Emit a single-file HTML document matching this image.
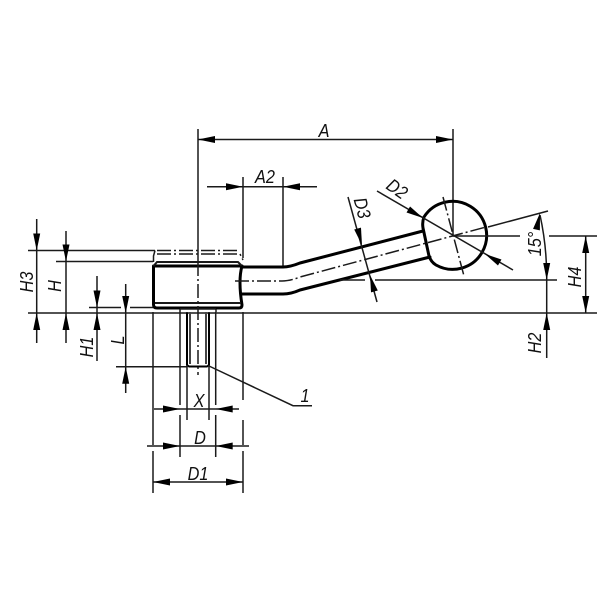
<!DOCTYPE html>
<html><head><meta charset="utf-8"><style>
html,body{margin:0;padding:0;background:#fff}
svg{display:block}
text{font-family:"Liberation Sans",sans-serif;font-style:italic;font-size:18.5px;fill:#111;text-anchor:middle}
.t{stroke:#1a1a1a;stroke-width:1.5;fill:none}
.k{stroke:#000;stroke-width:3;fill:none;stroke-linejoin:round;stroke-linecap:round}
.c{stroke:#1a1a1a;stroke-width:1.5;fill:none;stroke-dasharray:14 3 2 3}
.g{stroke:#444;stroke-width:2;fill:none}
.a{fill:#000}
</style></head><body>
<svg width="600" height="600" viewBox="0 0 600 600" xmlns="http://www.w3.org/2000/svg">
<defs><path id="h" d="M0,0 L-17,-3.5 L-17,3.5 Z"/></defs>

<!-- top dims -->
<path class="t" d="M198,129V262 M453,129V236 M198,139.5H453 M207,186.7H317 M243,177V258 M283,177V266"/>
<use href="#h" class="a" transform="translate(198,139.5) rotate(180)"/>
<use href="#h" class="a" transform="translate(453,139.5)"/>
<use href="#h" class="a" transform="translate(243,186.7)"/>
<use href="#h" class="a" transform="translate(283,186.7) rotate(180)"/>

<!-- left dims -->
<path class="t" d="M28,250.5H155 M56,261.5H153 M28,313H597 M89,307.5H121 M130,307.5H153 M116,366.7H187"/>
<path class="t" d="M36.7,219V343 M66,231V343 M97,276V361 M125.7,284V393"/>
<use href="#h" class="a" transform="translate(36.7,250.5) rotate(90)"/>
<use href="#h" class="a" transform="translate(36.7,313) rotate(-90)"/>
<use href="#h" class="a" transform="translate(66,261.5) rotate(90)"/>
<use href="#h" class="a" transform="translate(66,313) rotate(-90)"/>
<use href="#h" class="a" transform="translate(97,307.5) rotate(90)"/>
<use href="#h" class="a" transform="translate(97,313) rotate(-90)"/>
<use href="#h" class="a" transform="translate(125.7,313) rotate(90)"/>
<use href="#h" class="a" transform="translate(125.7,366.7) rotate(-90)"/>

<!-- hub -->
<path class="t" d="M155,250.5L153.5,256V262"/>
<path class="c" d="M157,254H240L243,260 M157,250.5H240"/>
<path class="k" d="M153.5,266V304.5Q153.5,308 157,308H239Q242,308 242,305Q238,280 242,266H153.5Z"/>
<path class="t" style="stroke-width:2" d="M153.5,266L157,262H238L242,266 M155,303H241"/>
<path class="c" d="M198,262V375"/>
<path class="t" d="M153,312V445 M153,451V493 M243,312V400 M243,420V445 M243,451V493"/>

<!-- stud -->
<path class="t" d="M180,309H216M180,309V312M216,309V312"/>
<path class="t" d="M180,312V405M180,415V457M215.7,312V405M215.7,415V457"/>
<path class="g" d="M190,312V364M206,312V364"/>
<path class="k" style="stroke-width:2" d="M187,313V365L189,366.5H207L209,365V313"/>
<path class="t" d="M187,365V420M209,365V420"/>

<!-- leader -->
<path class="t" d="M209,366L293,405.7H312"/>

<!-- bottom dims -->
<path class="t" d="M154,409H239 M147,446H249 M153,482H243"/>
<use href="#h" class="a" transform="translate(180,409)"/>
<use href="#h" class="a" transform="translate(215.7,409) rotate(180)"/>
<use href="#h" class="a" transform="translate(180,446)"/>
<use href="#h" class="a" transform="translate(215.7,446) rotate(180)"/>
<use href="#h" class="a" transform="translate(153,482) rotate(180)"/>
<use href="#h" class="a" transform="translate(243,482)"/>

<!-- handle -->
<path class="k" d="M242,267H283Q290,267 300,263L423,231 M242,294H283Q291,294 300,290L430,257"/>
<path class="c" d="M235,281H282Q290,281 300,277L486,227"/>
<path class="k" d="M424,217A34,34 0 1 1 436,265Q431,262 429,256L423,228Q422,222 424,217Z"/>
<path class="c" d="M443,197L464,276"/>

<!-- right dims -->
<path class="t" d="M453,236H520 M549,236H597 M488,227L548,211 M340,280H365 M375,280H557 M585.7,236V313 M546.7,280V358 M540,215Q547,247 546.7,280"/>
<use href="#h" class="a" transform="translate(585.7,236) rotate(-90)"/>
<use href="#h" class="a" transform="translate(585.7,313) rotate(90)"/>
<use href="#h" class="a" transform="translate(546.7,280) rotate(90)"/>
<use href="#h" class="a" transform="translate(546.7,313) rotate(-90)"/>
<use href="#h" class="a" transform="translate(540,213) rotate(-78)"/>

<!-- D2 / D3 -->
<path class="t" d="M377,191L513,270 M348,197L377,302"/>
<use href="#h" class="a" transform="translate(423,218) rotate(30)"/>
<use href="#h" class="a" transform="translate(485,254) rotate(210)"/>
<use href="#h" class="a" transform="translate(362,245) rotate(75)"/>
<use href="#h" class="a" transform="translate(370,275) rotate(255)"/>

<!-- labels -->
<text transform="translate(324,137) scale(.88,1)">A</text>
<text transform="translate(265,183) scale(.88,1)">A2</text>
<text transform="translate(397,189) rotate(35) scale(.88,1)" y="6">D2</text>
<text transform="translate(362,208) rotate(75) scale(.88,1)" y="6">D3</text>
<text transform="translate(535,244) rotate(-90) scale(.88,1)" y="6">15°</text>
<text transform="translate(575,277) rotate(-90) scale(.88,1)" y="6">H4</text>
<text transform="translate(535,343) rotate(-90) scale(.88,1)" y="6">H2</text>
<text transform="translate(27,282) rotate(-90) scale(.88,1)" y="6">H3</text>
<text transform="translate(55,286) rotate(-90) scale(.88,1)" y="6">H</text>
<text transform="translate(87,347) rotate(-90) scale(.88,1)" y="6">H1</text>
<text transform="translate(118,340) rotate(-90) scale(.88,1)" y="6">L</text>
<text transform="translate(199,407) scale(.88,1)">X</text>
<text transform="translate(200,444) scale(.88,1)">D</text>
<text transform="translate(198,480) scale(.88,1)">D1</text>
<text transform="translate(305,402) scale(.88,1)">1</text>
</svg>
</body></html>
